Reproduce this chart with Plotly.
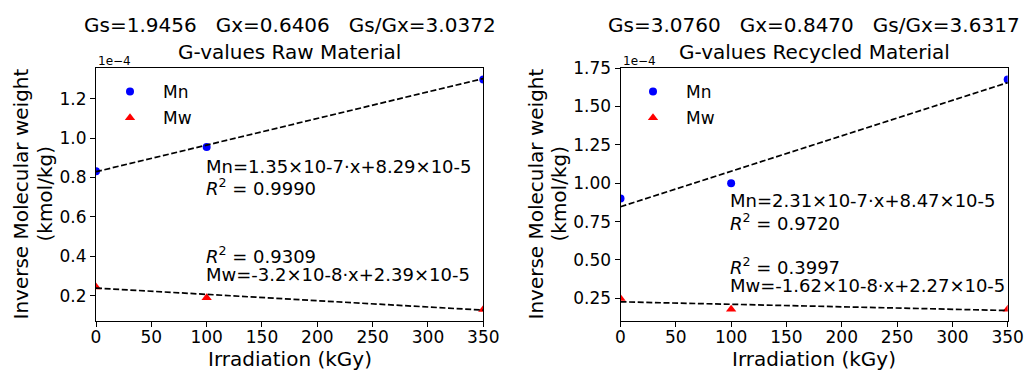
import numpy as np
import plotly.graph_objects as go

# ---- data (inverse molecular weight, in units of 1e-4 kmol/kg) ----
irradiation = [0, 100, 350]            # kGy
raw_mn = [0.832, 0.955, 1.297]
raw_mw = [0.245, 0.190, 0.130]
rec_mn = [0.900, 1.000, 1.676]
rec_mw = [0.249, 0.179, 0.179]

# linear fits (slope, intercept) in units of 1e-4
raw_mn_fit = (1.35e-3, 0.829)
raw_mw_fit = (-3.2e-4, 0.239)
rec_mn_fit = (2.31e-3, 0.847)
rec_mw_fit = (-1.62e-4, 0.227)

titles_top = ["Gs=1.9456   Gx=0.6406   Gs/Gx=3.0372",
              "Gs=3.0760   Gx=0.8470   Gs/Gx=3.6317"]
titles_sub = ["G-values Raw Material", "G-values Recycled Material"]
raw_labels = ["Mn=1.35×10-7·x+8.29×10-5", "<i>R</i><sup>2</sup> = 0.9990",
              "<i>R</i><sup>2</sup> = 0.9309", "Mw=-3.2×10-8·x+2.39×10-5"]
rec_labels = ["Mn=2.31×10-7·x+8.47×10-5", "<i>R</i><sup>2</sup> = 0.9720",
              "<i>R</i><sup>2</sup> = 0.3997", "Mw=-1.62×10-8·x+2.27×10-5"]
x_ticks = [0, 50, 100, 150, 200, 250, 300, 350]
x_title = "Irradiation (kGy)"
y_title_lines = ["Inverse Molecular weight", "(kmol/kg)"]

FONT = "DejaVu Sans"
W, H = 1024, 371

def px_x(p):
    return p / W

def px_y(p):
    return 1 - p / H

dom_x1 = [px_x(96), px_x(483.3)]
dom_x2 = [px_x(620.5), px_x(1007.7)]
dom_y = [px_y(321), px_y(68)]

fig = go.Figure()
xfit = np.array([min(irradiation), max(irradiation)], dtype=float)

def add_panel(mn, mw, mnfit, mwfit, xa, ya, legend):
    fig.add_trace(go.Scatter(x=irradiation, y=mn, mode="markers", name="Mn",
                             marker=dict(color="#0000ff", size=8, symbol="circle"),
                             xaxis=xa, yaxis=ya, legend=legend, legendgroup=legend + "a"))
    fig.add_trace(go.Scatter(x=irradiation, y=mw, mode="markers", name="Mw",
                             marker=dict(color="#ff0000", size=9, symbol="triangle-up"),
                             xaxis=xa, yaxis=ya, legend=legend, legendgroup=legend + "b"))
    for s, b in (mnfit, mwfit):
        fig.add_trace(go.Scatter(x=xfit, y=s * xfit + b, mode="lines", showlegend=False,
                                 line=dict(color="black", width=1.7, dash="6px,2.6px"),
                                 xaxis=xa, yaxis=ya, hoverinfo="skip"))

add_panel(raw_mn, raw_mw, raw_mn_fit, raw_mw_fit, "x", "y", "legend")
add_panel(rec_mn, rec_mw, rec_mn_fit, rec_mw_fit, "x2", "y2", "legend2")

axis_common = dict(showline=True, linecolor="black", linewidth=1, mirror=True,
                   ticks="outside", ticklen=5, tickwidth=1, tickcolor="black",
                   showgrid=False, zeroline=False, automargin=False,
                   tickfont=dict(family=FONT, size=17, color="black"))

legend_common = dict(xanchor="left", yanchor="top", bgcolor="rgba(0,0,0,0)",
                     font=dict(family=FONT, size=17, color="black"),
                     tracegroupgap=1, itemwidth=56)

fig.update_layout(
    width=W, height=H, margin=dict(l=0, r=0, t=0, b=0),
    paper_bgcolor="white", plot_bgcolor="white",
    font=dict(family=FONT, color="black"),
    xaxis=dict(domain=dom_x1, range=[0, 350], tickvals=x_ticks, anchor="y",
               ticklabelstandoff=-4, **axis_common),
    yaxis=dict(domain=dom_y, range=[0.072, 1.355], tickvals=[0.2, 0.4, 0.6, 0.8, 1.0, 1.2],
               ticktext=["0.2", "0.4", "0.6", "0.8", "1.0", "1.2"], anchor="x",
               **axis_common),
    xaxis2=dict(domain=dom_x2, range=[0, 350], tickvals=x_ticks, anchor="y2",
                ticklabelstandoff=-4, **axis_common),
    yaxis2=dict(domain=dom_y, range=[0.102, 1.751],
                tickvals=[0.25, 0.5, 0.75, 1.0, 1.25, 1.5, 1.75],
                ticktext=["0.25", "0.50", "0.75", "1.00", "1.25", "1.50", "1.75"],
                anchor="x2", **axis_common),
    legend=dict(x=px_x(97), y=px_y(74), **legend_common),
    legend2=dict(x=px_x(620), y=px_y(74), **legend_common),
    showlegend=True,
)

annotations = []
doms = [dom_x1, dom_x2]
centers = [(d[0] + d[1]) / 2 for d in doms]
ylab_x = [(20, 44), (535, 558)]
for i in range(2):
    annotations.append(dict(text=titles_top[i], x=centers[i], y=px_y(25), xref="paper",
                            yref="paper", showarrow=False, xanchor="center", yanchor="middle",
                            font=dict(family=FONT, size=20, color="black")))
    annotations.append(dict(text=titles_sub[i], x=centers[i], y=px_y(52), xref="paper",
                            yref="paper", showarrow=False, xanchor="center", yanchor="middle",
                            font=dict(family=FONT, size=20, color="black")))
    annotations.append(dict(text="1e−4", x=doms[i][0], y=px_y(61), xref="paper",
                            yref="paper", showarrow=False, xanchor="left", yanchor="middle",
                            font=dict(family=FONT, size=12, color="black")))
    annotations.append(dict(text=x_title, x=centers[i], y=px_y(359), xref="paper",
                            yref="paper", showarrow=False, xanchor="center", yanchor="middle",
                            font=dict(family=FONT, size=20, color="black")))
    for line, lx in zip(y_title_lines, ylab_x[i]):
        annotations.append(dict(text=line, x=px_x(lx), y=(dom_y[0] + dom_y[1]) / 2,
                                xref="paper", yref="paper", showarrow=False, textangle=-90,
                                xanchor="center", yanchor="middle",
                                font=dict(family=FONT, size=20, color="black")))

raw_label_y = [0.857, 0.751, 0.406, 0.31]
rec_label_y = [0.887, 0.749, 0.462, 0.331]
for labels, ys, xr, yr in ((raw_labels, raw_label_y, "x", "y"), (rec_labels, rec_label_y, "x2", "y2")):
    for t, yy in zip(labels, ys):
        annotations.append(dict(text=t, x=100, y=yy, xref=xr, yref=yr, showarrow=False,
                                xanchor="left", yanchor="middle", xshift=-3,
                                font=dict(family=FONT, size=18, color="black")))

fig.update_layout(annotations=annotations)
fig.write_html("out.html")
